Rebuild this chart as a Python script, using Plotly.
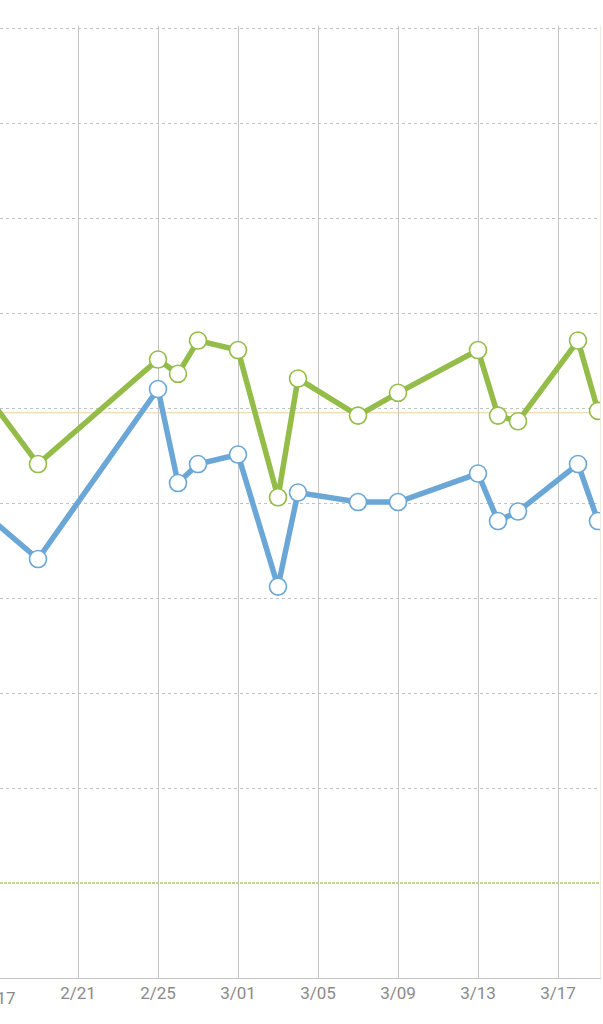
import plotly.graph_objects as go

dates = ["2025-02-16", "2025-02-19", "2025-02-25", "2025-02-26", "2025-02-27",
         "2025-03-01", "2025-03-03", "2025-03-04", "2025-03-07", "2025-03-09",
         "2025-03-13", "2025-03-14", "2025-03-15", "2025-03-18", "2025-03-19"]
green_vals = [6.26, 5.41, 6.51, 6.36, 6.71, 6.61, 5.06, 6.31, 5.92, 6.16,
              6.61, 5.92, 5.86, 6.71, 5.97]
blue_vals = [4.95, 4.41, 6.20, 5.21, 5.41, 5.51, 4.12, 5.11, 5.01, 5.01,
             5.31, 4.81, 4.91, 5.41, 4.81]
reference_level = 5.95
target_level = 1.0
y_grid = [2, 3, 4, 5, 6, 7, 8, 9, 10]
first_tick_label = "2/17"

GREEN = "#93bc48"
BLUE = "#6aa7d7"
TICK_FONT = dict(family="Roboto", size=17, color="#8a8a8e")

fig = go.Figure()
for vals, col in [(blue_vals, BLUE), (green_vals, GREEN)]:
    fig.add_trace(go.Scatter(
        x=dates, y=vals, mode="lines+markers",
        line=dict(color=col, width=5.5),
        marker=dict(size=17, color="white", line=dict(color=col, width=1.6)),
        hoverinfo="x+y", showlegend=False,
    ))

fig.add_shape(type="line", xref="paper", x0=0, x1=1, yref="y",
              y0=reference_level, y1=reference_level,
              line=dict(color="#efcfa4", width=1), layer="below")
fig.add_shape(type="line", xref="paper", x0=0, x1=1, yref="y",
              y0=target_level, y1=target_level,
              line=dict(color="#a9c96a", width=1.5, dash="3px,1px"), layer="below")

fig.add_annotation(text=first_tick_label, xref="paper", yref="paper",
                   x=0, y=0, xanchor="center", yanchor="top", xshift=-2, yshift=-8,
                   showarrow=False, font=TICK_FONT)

fig.update_layout(
    width=603, height=1024,
    margin=dict(l=0, r=3, t=26, b=46),
    paper_bgcolor="white", plot_bgcolor="white",
    xaxis=dict(
        type="date",
        range=["2025-02-17 02:24", "2025-03-19 02:24"],
        tick0="2025-02-17", dtick=4 * 86400000,
        tickformat="%-m/%d",
        showgrid=True, gridcolor="#c4c4c4", gridwidth=1,
        showline=True, linecolor="#c4c4c4", linewidth=1,
        ticks="", zeroline=False,
        tickfont=TICK_FONT,
    ),
    yaxis=dict(
        range=[0, 10.021], tickmode="array", tickvals=y_grid,
        showticklabels=False, ticks="",
        showgrid=True, gridcolor="#c2c2c2", gridwidth=1, griddash="dot",
        zeroline=False, side="right",
        showline=True, linecolor="#f1eadb", linewidth=1,
    ),
)

fig.write_html("out.html", config={"displayModeBar": False},
               post_script="document.body.style.margin='0';")
